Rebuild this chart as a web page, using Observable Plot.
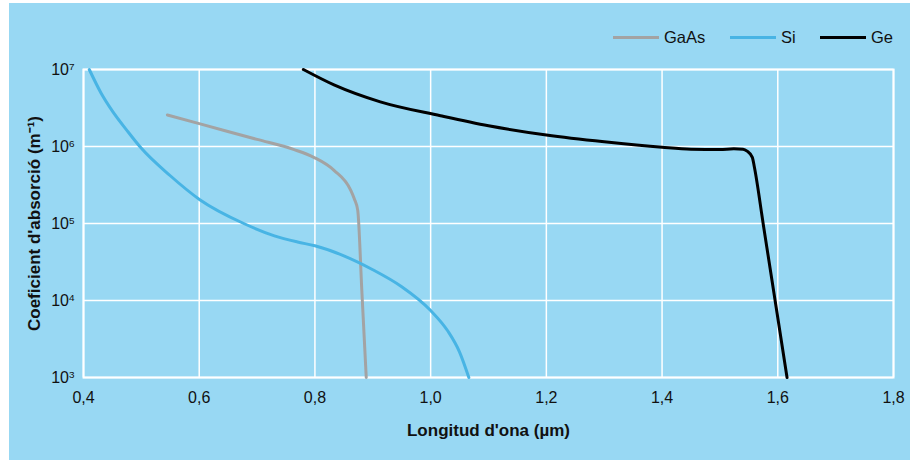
<!DOCTYPE html>
<html><head><meta charset="utf-8">
<script src="https://cdn.jsdelivr.net/npm/d3@7"></script>
<script src="https://cdn.jsdelivr.net/npm/@observablehq/plot@0.6"></script>
<style>
body{margin:0;background:#fff;font-family:"Liberation Sans",Arial,sans-serif;}
#panel{position:absolute;left:9px;top:3px;width:901px;height:457px;background:#98d8f3;overflow:hidden;}
.sw{position:absolute;height:3px;width:46px;top:32.5px;}
.lt{position:absolute;top:24px;line-height:20px;font-size:16.5px;color:#111;}
#chart{position:absolute;left:0;top:0;}
</style></head>
<body>
<div id="panel"><div id="chart"></div><div id="legend"></div></div>
<script>
// Data (wavelength in µm, absorption coefficient in m^-1)
const seriesNames = ["GaAs", "Si", "Ge"];
const gaasWavelength = [0.545, 0.60, 0.70, 0.764, 0.798, 0.833, 0.862, 0.868, 0.874, 0.881, 0.8887];
const gaasAbsorption = [2.57e6, 1.98e6, 1.236e6, 9.12e5, 7.24e5, 4.90e5, 2.69e5, 2.09e5, 1.48e5, 1.37e4, 1.0e3];
const siWavelength = [0.410, 0.43, 0.45, 0.475, 0.4985, 0.55, 0.601, 0.677, 0.73, 0.77, 0.80, 0.85, 0.90, 0.95, 1.00, 1.03, 1.05, 1.066];
const siAbsorption = [1.0e7, 5.0e6, 2.884e6, 1.622e6, 9.77e5, 4.17e5, 2.04e5, 1.0e5, 6.92e4, 5.75e4, 5.13e4, 3.80e4, 2.51e4, 1.51e4, 7.41e3, 3.98e3, 2.14e3, 1.0e3];
const geWavelength = [0.780, 0.833, 0.913, 1.017, 1.1, 1.2, 1.3, 1.4, 1.45, 1.5, 1.524, 1.54, 1.547, 1.556, 1.5596, 1.575, 1.59, 1.605, 1.616];
const geAbsorption = [1.0e7, 6.31e6, 3.80e6, 2.51e6, 1.86e6, 1.41e6, 1.15e6, 9.77e5, 9.23e5, 9.12e5, 9.33e5, 9.23e5, 8.71e5, 7.24e5, 5.37e5, 9.66e4, 1.82e4, 3.41e3, 1.0e3];
const xTicks = [0.4, 0.6, 0.8, 1.0, 1.2, 1.4, 1.6, 1.8];
const yTicks = [1e3, 1e4, 1e5, 1e6, 1e7];
const xLabel = "Longitud d'ona (\u00b5m)";
const yLabel = "Coeficient d'absorció (m\u207b\u00b9)";

const seriesColors = {GaAs: "#a3a3a3", Si: "#48b4e4", Ge: "#000000"};

const table = [];
[[gaasWavelength, gaasAbsorption, "GaAs"], [siWavelength, siAbsorption, "Si"], [geWavelength, geAbsorption, "Ge"]]
  .forEach(([xs, ys, name]) => xs.forEach((x, i) => table.push({series: name, x, y: ys[i]})));

const chart = Plot.plot({
  width: 901, height: 457,
  marginLeft: 74, marginRight: 17, marginTop: 66, marginBottom: 83,
  style: {background: "transparent", fontFamily: "Liberation Sans, Arial, sans-serif", fontSize: "16px", color: "#111"},
  x: {domain: [0.4, 1.8]},
  y: {type: "log", domain: [1e3, 1e7]},
  marks: [
    Plot.gridX(xTicks, {stroke: "white", strokeOpacity: 1, strokeWidth: 1.5}),
    Plot.gridY(yTicks, {stroke: "white", strokeOpacity: 1, strokeWidth: 1.5}),
    Plot.frame({stroke: "white", strokeWidth: 2}),
    Plot.axisX(xTicks, {tickSize: 0, tickPadding: 14, label: null, tickFormat: d => d.toFixed(1).replace(".", ","), fontSize: 16}),
    Plot.axisY(yTicks, {tickSize: 0, tickPadding: 9, label: null, tickFormat: d => "10^" + Math.round(Math.log10(d)), fontSize: 16}),
    Plot.line(table, {x: "x", y: "y", z: "series", stroke: d => seriesColors[d.series], strokeWidth: 3, curve: "monotone-x"}),
    Plot.text([xLabel], {text: d => d, frameAnchor: "bottom", textAnchor: "middle", dy: 58, fontWeight: "bold", fontSize: 17}),
    Plot.text([yLabel], {text: d => d, frameAnchor: "left", textAnchor: "middle", dx: -49, rotate: -90, fontWeight: "bold", fontSize: 17})
  ]
});
document.getElementById("chart").appendChild(chart);

// superscripts on the y tick labels
chart.querySelectorAll("text").forEach(t => {
  const s = t.textContent;
  const m = /^10\^(\d+)$/.exec(s);
  if (m) {
    t.textContent = "10";
    const ts = document.createElementNS("http://www.w3.org/2000/svg", "tspan");
    ts.setAttribute("dy", "-0.45em");
    ts.setAttribute("font-size", "0.62em");
    ts.textContent = m[1];
    t.appendChild(ts);
  }
});

// legend
const legendX = {GaAs: [604, 655], Si: [721, 772], Ge: [811, 862]};
const lg = document.getElementById("legend");
seriesNames.forEach(name => {
  const sw = document.createElement("div");
  sw.className = "sw"; sw.style.left = legendX[name][0] + "px"; sw.style.background = seriesColors[name];
  const lt = document.createElement("div");
  lt.className = "lt"; lt.style.left = legendX[name][1] + "px"; lt.textContent = name;
  lg.appendChild(sw); lg.appendChild(lt);
});
</script>
</body></html>
